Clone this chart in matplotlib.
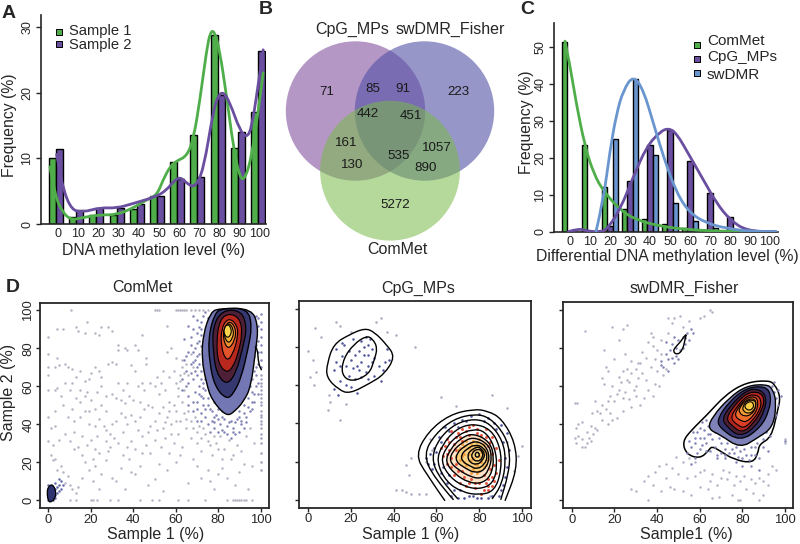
import numpy as np
import matplotlib
matplotlib.use("Agg")
import matplotlib.pyplot as plt
from matplotlib.patches import Circle, PathPatch
from matplotlib.path import Path

plt.rcParams["font.family"] = ["Liberation Sans", "DejaVu Sans"]

W, H = 800, 544
ink = "#262626"
green = "#4fae4a"
purple = "#6a4e9f"
blue = "#6a96cf"

# ---- Panel A ----
levels = [0, 10, 20, 30, 40, 50, 60, 70, 80, 90, 100]
a_sample1 = [10, 1, 1.3, 1.3, 2.3, 4.3, 9.4, 13.5, 28.8, 11.5, 17.1]
a_sample2 = [11.4, 2.2, 2.5, 2.4, 3, 4.3, 6.9, 7.2, 19.6, 14, 26.3]
a_curve1 = [(-3, 8.7), (-0.5, 4.2), (3.6, 1.6), (7.8, 0.6), (13.5, 1.0), (21.8, 1.4), (30, 1.4), (38, 2.4),
            (45, 3.7), (50, 4.4), (53, 6.7), (56.4, 8.7), (59.7, 9.6), (64.7, 10.3), (68, 12.8), (71.3, 18.9),
            (74.6, 26.5), (76.5, 29.3), (78.5, 29.3), (81, 26.5), (84.5, 19.4), (87.8, 11.8), (91, 7.0), (93.6, 6.8),
            (96.9, 10.3), (100, 16.9), (102.6, 23)]
a_curve2 = [(0.3, 10.6), (1.2, 9.2), (3.6, 5.2), (7.8, 2.1), (13.5, 1.8), (21.8, 2.5), (30, 2.4), (38, 3.1),
            (50, 4.2), (54.8, 5.2), (58, 6.4), (61.4, 7.2), (64.7, 6.2), (68.8, 5.5), (73, 8.2), (78, 17.4),
            (80.4, 19.6), (83, 20.1), (86.2, 18.4), (91, 14.3), (94.4, 13.1), (96.9, 14.6), (100, 20.9), (102.6, 26.5)]

# ---- Panel B ----
venn_labels = ["71", "85", "91", "223", "442", "451", "161", "130", "535", "1057", "890", "5272"]
venn_x = [327, 373, 403, 459, 368, 411, 346, 352, 399, 437, 426, 395]
venn_y = [92, 89, 89, 92, 114, 116, 143, 165, 156, 148, 168, 205]

# ---- Panel C ----
c_commet = [51.2, 23.3, 12.2, 6, 3.5, 2, 1, 0.5, 0.2, 0, 0]
c_cpg = [0, 0.3, 1.5, 13.8, 23.5, 27.5, 19, 10.5, 4, 0.3, 0]
c_swdmr = [0, 0, 25, 41.2, 20.8, 7.8, 3, 1, 0.3, 0, 0]
c_curve1 = [(-2.5, 51.5), (0, 45), (3, 35), (7.5, 23), (12, 15.5), (16.7, 11), (25, 5.9), (33, 3.2), (45, 1.5),
            (58, 0.6), (75, 0.1), (102, 0)]
c_curve2 = [(-0.8, 0), (4.2, 0.9), (9.2, 0.1), (15, 0), (18.3, 0.5), (25, 5.9), (31.7, 14.9), (38.3, 23), (45, 27),
            (49.2, 28), (53.3, 26.6), (60, 20.3), (66.7, 14), (73.3, 7.7), (80, 3.2), (88.3, 0.2), (103, 0)]
c_curve3 = [(13, 0), (16.7, 8.6), (20, 22), (23.3, 32), (26.7, 38.3), (31.7, 42.3), (36.7, 38.3), (41.7, 29.3),
            (46.7, 20.3), (53.3, 10.4), (60, 5), (68.3, 2.3), (78.3, 0.9), (90, 0.1), (103, 0)]

# ---- Panel D: ComMet ----
commet_gray = [(10.5, 100), (13, 91), (14, 89), (18, 94), (17, 88), (22, 88), (24, 87), (25, 91), (28, 91), (30, 89),
    (0, 86), (4, 90), (7, 90), (0, 77), (4, 75), (5, 71), (8, 72), (9, 70), (11, 69), (0, 70), (3, 70), (0, 66),
    (13, 65), (15, 68), (17, 63), (19, 64), (20, 67), (22, 70), (24, 68), (25, 65), (25, 60), (28, 72), (30, 73),
    (32, 72), (33, 82), (33, 79), (36, 80), (37, 79), (37, 62), (41, 82), (42, 79), (44, 87), (46, 75), (46, 72),
    (39, 71), (41, 68), (0, 58), (3, 58), (4, 59), (8, 62), (10, 58), (13, 54), (15, 58), (17, 55), (18, 57),
    (20, 53), (22, 48), (25, 50), (27, 47), (30, 56), (32, 54), (34, 53), (36, 51), (38, 55), (40, 53), (43, 52),
    (45, 58), (47, 50), (50, 60), (52, 56), (53, 62), (55, 58), (57, 52), (59, 50), (60, 62), (62, 66), (63, 70),
    (58, 80), (60, 75), (56, 92), (56, 78), (0, 44), (3, 47), (7, 50), (9, 44), (11, 48), (12, 42), (15, 44),
    (17, 47), (19, 40), (22, 39), (24, 43), (27, 37), (29, 35), (32, 42), (34, 46), (37, 40), (39, 45), (41, 42),
    (43, 44), (45, 48), (48, 39), (50, 42), (52, 46), (54, 38), (56, 44), (58, 40), (60, 47), (62, 42), (64, 46),
    (1, 38), (3, 39), (5, 32), (0, 31), (2, 29), (8, 35), (10, 31), (12, 27), (14, 28), (16, 24), (18, 29), (20, 32),
    (22, 27), (24, 25), (27, 31), (29, 28), (31, 33), (33, 30), (35, 24), (37, 28), (39, 31), (41, 27), (44, 34),
    (46, 29), (48, 25), (50, 32), (53, 28), (55, 33), (57, 25), (59, 30), (61, 35), (63, 28), (65, 38), (67, 33),
    (1, 24), (2, 21), (3, 22), (4, 16), (6, 18), (7, 15), (8, 9), (9, 13), (10, 8), (11, 6), (13, 4), (14, 7),
    (16, 12), (17, 20), (19, 16), (21, 10), (22, 18), (24, 6), (25, 14), (27, 21), (30, 12), (32, 10), (34, 17),
    (36, 6), (39, 15), (41, 14), (43, 18), (47, 8), (50, 11), (52, 19), (54, 5), (56, 16), (60, 20), (62, 24),
    (66, 9), (68, 22), (70, 18), (72, 12), (75, 16), (76, 10), (78, 6), (80, 14), (82, 17), (84, 12), (86, 22),
    (88, 8), (90, 15), (92, 19), (94, 6), (96, 18), (70, 30), (72, 26), (74, 35), (77, 24), (79, 30), (81, 34),
    (83, 27), (85, 32), (87, 24), (89, 29), (91, 26), (93, 34), (95, 38), (97, 30),
    (6, 55), (12, 36), (16, 34), (21, 22), (23, 34), (26, 39), (28, 26), (35, 36), (38, 22), (42, 37), (44, 25), (47, 36),
    (49, 49), (51, 37), (54, 49), (55, 41), (57, 47), (58, 35), (60, 42), (61, 55), (63, 52), (64, 58), (65, 43), (66, 47),
    (67, 42), (68, 38), (69, 44), (70, 36), (71, 39), (72, 33), (73, 38), (75, 31), (76, 29), (78, 34), (80, 27), (82, 22),
    (57, 65), (59, 68), (61, 59), (62, 63), (63, 74), (64, 67), (65, 72), (66, 66), (67, 77), (68, 70), (54, 68), (51, 65),
    (48, 62), (44, 62), (42, 60), (35, 58), (33, 62), (27, 55), (23, 57), (11, 62), (15, 52), (19, 47), (30, 40), (36, 44)]
commet_edge_x = [50, 51, 52, 60, 61, 62, 63, 64, 65, 67, 69, 71, 73, 75]
commet_floor_x = [10, 13, 20, 21, 23, 29, 33, 43, 49, 52, 61, 66, 74, 84, 87, 88, 89, 90, 91, 92, 93, 96]
commet_right_y = [16, 20, 25, 30, 33, 35, 38, 40, 42, 44, 45, 47, 50, 52, 54, 56, 58, 60, 62, 64, 66]
commet_lilac = [(66, 92), (68, 90), (67, 86), (70, 88), (71, 84), (69, 80), (72, 94), (73, 97), (74, 99), (70, 76),
    (67, 72), (64, 74), (71, 72), (72, 68), (70, 66), (68, 64), (66, 62), (65, 68), (63, 64), (71, 60), (73, 62),
    (69, 57), (72, 55), (74, 58), (66, 55), (70, 52), (73, 50), (75, 54), (76, 48), (72, 46), (74, 44), (77, 42),
    (79, 45), (81, 40), (83, 43), (85, 41), (87, 38), (89, 43), (91, 40), (93, 44), (95, 47), (78, 38), (76, 36),
    (80, 36), (82, 37), (84, 35), (86, 33), (88, 35), (90, 36), (92, 38), (70, 42), (68, 47), (66, 50), (96, 52),
    (97, 56), (98, 60), (95, 60), (96, 64), (98, 66), (99, 72), (97, 68), (99, 78), (99, 84), (98, 88), (99, 92),
    (97, 94), (98, 97), (100, 98), (100, 94), (100, 90), (100, 86), (100, 82), (100, 78), (100, 74), (100, 70),
    (94, 54), (92, 50), (90, 47), (73, 78), (74, 82), (73, 72), (75, 66), (76, 60), (77, 56), (78, 52), (80, 48),
    (82, 47), (88, 49), (90, 52), (94, 66), (96, 74), (95, 80), (96, 86), (97, 90), (70, 95), (68, 97), (64, 85),
    (71, 91), (72, 87), (72, 81), (71, 77), (70, 70), (69, 74), (68, 78), (67, 82), (66, 78), (65, 76), (69, 68), (72, 64),
    (74, 64), (73, 59), (71, 56), (73, 54), (75, 50), (74, 48), (77, 47), (78, 44), (80, 43), (82, 44), (84, 39), (86, 42),
    (88, 41), (90, 44), (92, 46), (94, 49), (96, 48), (97, 52), (99, 56), (99, 62), (98, 70), (97, 76), (98, 82), (96, 92),
    (99, 96), (75, 96), (72, 90), (70, 83), (68, 73), (67, 67), (65, 60), (63, 58), (68, 52), (70, 48), (72, 42), (75, 40),
    (78, 41), (83, 36), (87, 36), (91, 42), (93, 41), (96, 57), (95, 70), (94, 74), (97, 82), (96, 97), (94, 99), (92, 100)]
commet_blob = [(0, 0), (0, 2), (0, 4), (1, 1), (1, 3), (1, 5), (2, 0), (2, 2), (2, 4), (3, 1), (3, 3), (0, 6), (1, 7),
    (3, 6), (4, 4), (4, 7), (5, 5), (5, 8), (3, 9), (6, 6), (6, 10), (5, 11), (7, 8), (2, 6), (0, 8)]
commet_level1 = [(84, 44), (77, 52.8), (74.5, 61.5), (72.2, 74.7), (73, 87.8), (76.5, 99), (80.4, 101),
                 (96, 101), (99, 91), (97.8, 80), (95.5, 59.8), (92, 52), (88, 47)]
commet_level2 = [(84, 53), (78.5, 59.8), (76, 72), (75.4, 86), (78.4, 98.5), (82, 101), (94, 101), (96, 91.3),
                 (94, 79), (91, 65), (87.5, 56.5)]
commet_level3 = [(84, 60.5), (79.2, 66.8), (77.6, 79), (77.5, 91), (81.6, 100), (91, 100), (93.6, 91), (91.8, 81), (88.4, 66.8)]
commet_level4 = [(84, 67), (80, 72), (79.2, 84), (80.8, 95), (85, 98.5), (90.2, 96), (91.5, 87.8), (89.4, 77), (86.9, 70)]
commet_level5 = [(84, 73), (81.3, 80.8), (81.6, 91), (85, 96.2), (89, 92.3), (89.4, 86), (87, 77)]
commet_level6 = [(84.3, 78.8), (81.8, 87.8), (85, 95), (88.4, 90.8), (88, 84)]
commet_level7 = [(84.5, 82.3), (82.2, 88.6), (84.8, 94), (87.5, 89.8), (86.8, 85)]
commet_level8 = [(84.5, 85.2), (82.8, 87.5), (82.8, 90.5), (84.5, 93), (86.2, 90.5), (86.2, 87.5)]
commet_side = [(97.4, 81), (98.6, 80), (99, 72), (100.5, 68.5)]
commet_corner = [(0, -0.8), (-0.8, 4), (0, 7.5), (2, 8.5), (3.5, 5), (3.3, 1.5), (1.5, -0.8)]

# ---- Panel D: CpG_MPs ----
cpg_gray = [(0, 78), (3.5, 90), (6, 85), (13, 93), (15, 91), (20, 88), (32, 93), (34, 95), (37, 88), (41, 86), (50, 80),
    (1, 64), (3, 60), (4, 67), (2.5, 73), (10, 55), (10.5, 51), (9.5, 47), (15, 42), (18, 50), (62, 54), (69, 49),
    (86, 55), (93, 48), (46, 18), (48, 22), (47, 13), (41, 5), (44, 5), (46, 4), (48, 3), (52, 3), (55, 3), (57, 32),
    (63, 38), (98, 23), (100, 28), (96, 15), (85, 2), (93, 30), (55, 20), (58, 26)]
cpg_navy = [(27, 85), (25, 83), (28, 81), (29, 84), (26, 80), (24, 78), (22, 76), (20, 73), (18, 70), (19, 65),
    (22, 63), (25, 64), (27, 67), (28, 70), (30, 72), (25, 72), (23, 70), (24, 68), (21, 69), (26, 76), (28, 76),
    (30, 79), (31, 74), (33, 70), (36, 72), (38, 73), (35, 68), (37, 79), (12, 68), (13, 72), (15, 70), (16, 75),
    (13, 79), (17, 81), (19, 78), (21, 84), (15, 62), (18, 60), (20, 59), (23, 56), (28, 63), (31, 65), (34, 62),
    (12, 58), (14, 55), (16, 82)]
cpg_points_blue = [(55, 22), (56, 19), (59, 27), (61, 33), (64, 38), (68, 40), (72, 42), (80, 45), (84, 43), (90, 39),
    (93, 35), (94, 26), (93, 17), (91, 8), (89, 2), (84, 1), (79, 1), (73, 1), (70, 1), (68, 5), (65, 9), (62, 14),
    (58, 16), (67, 2), (75, 2), (60, 25), (88, 37), (76, 44), (70, 38), (57, 24), (59, 19), (63, 17), (66, 13), (71, 5),
    (77, 2), (81, 1), (86, 2), (90, 5), (92, 12), (92, 22), (91, 30), (87, 40), (82, 41), (74, 41), (66, 36), (62, 30)]
cpg_points_red = [(62, 27), (65, 32), (67, 36), (69, 33), (72, 37), (75, 38), (79, 37), (83, 37), (86, 33), (88, 27),
    (89, 21), (88, 14), (86, 7), (84, 5), (81, 3), (78, 6), (74, 7), (71, 9), (68, 13), (65, 19), (63, 23), (66, 26),
    (68, 29), (71, 33), (75, 34), (79, 35), (83, 33), (86, 24), (85, 16), (83, 9), (80, 9), (76, 11), (72, 15), (69, 19),
    (67, 22), (84, 28), (82, 13), (87, 10), (66, 30), (70, 35), (74, 36), (77, 39), (81, 34), (85, 30), (87, 18), (86, 12),
    (84, 7), (82, 5), (78, 9), (75, 9), (73, 12), (70, 15), (67, 17), (65, 24), (64, 28), (69, 26), (72, 31), (84, 11)]
cpg_points_orange = [(70, 26), (72, 29), (74, 31), (77, 31), (80, 32), (82, 29), (83, 24), (83, 18), (80, 15), (77, 16),
    (74, 18), (71, 21), (73, 24), (75, 27), (78, 28), (80, 28), (81, 25), (81, 20), (78, 19), (76, 21), (75, 24),
    (69, 23), (71, 27), (73, 28), (76, 29), (79, 30), (82, 26), (84, 21), (82, 17), (79, 14), (76, 14), (73, 20), (72, 23),
    (77, 26), (80, 23), (77, 22), (79, 18)]
cpg_open1 = [(64, -0.5), (55, 13.9), (50.3, 23.5), (56, 35.5), (66, 44.5), (77.3, 47.5), (84, 46.5), (90.5, 42.5),
             (96.8, 30), (97.6, 15.7), (92, -0.5)]
cpg_open2 = [(68, 0), (58.5, 12), (54, 24), (59.5, 34.5), (68, 42.3), (78, 45), (85, 43), (92, 34), (94.5, 24), (93.5, 13), (90, 0)]
cpg_open3 = [(70, 0.5), (61.5, 11), (57.5, 22), (61.5, 32.5), (69, 40), (78, 42.5), (85, 40), (91, 31), (92.5, 20), (90.5, 8), (86, 0.5)]
cpg_ring1 = [(77, 40), (69, 37), (62.5, 28.5), (60, 20), (64.5, 9.5), (72, 4), (80, 2.5), (87, 4.5), (90.3, 15), (90, 27), (85.5, 37)]
cpg_ring2 = [(77, 37), (70, 34), (64.5, 27.5), (62, 20), (66.5, 11.5), (73, 7), (80, 5.5), (86.5, 8.5), (88.5, 18), (87, 28.5), (82.5, 36)]
cpg_ring3 = [(77, 35), (71, 32), (66.5, 26.5), (64, 20), (68.5, 13.5), (75, 9), (81, 8.5), (85.5, 12.5), (87, 22), (85, 30.5)]
cpg_ring4 = [(77, 33), (72, 30), (67.5, 25.5), (66, 20), (70.5, 15.5), (76, 12), (81, 11), (84.5, 15.5), (86, 23), (84, 29.5)]
cpg_ring5 = [(78, 31), (73, 28), (69.5, 24.5), (69, 20), (73.5, 16.5), (78, 14), (82.5, 15.5), (85, 22), (83, 28.5)]
cpg_ring6 = [(78, 29), (74, 26.5), (71.5, 23.5), (72, 20), (76, 17.5), (79, 16), (82.5, 18.5), (84, 23), (82, 27.5)]
cpg_ring7 = [(79, 27.8), (75.5, 25.5), (74.5, 23), (75.5, 19.5), (79, 18.3), (81.5, 20.5), (82.8, 24), (80.5, 27.2)]
cpg_ring8 = [(79, 26.8), (76.5, 24.5), (76.5, 21.7), (79, 19.8), (81.6, 21.7), (81.6, 25.5)]
cpg_ring9 = [(79, 25.4), (77.8, 23.5), (79, 21.9), (80.4, 23.5)]
cpg_blob_outer = [(26.6, 89.8), (19.5, 86.5), (12, 81.5), (9, 71.3), (8.6, 64), (14.5, 57.5), (19.5, 55.5), (29, 61),
                  (35.5, 65.5), (40.8, 74.8), (36.5, 81.5), (31, 87.8)]
cpg_blob_inner = [(27.3, 85.8), (21.5, 81.5), (16.6, 74), (15.6, 65.5), (20.3, 61.6), (28.5, 65.5), (31, 73), (32.5, 79.5), (30.2, 84.3)]

# ---- Panel D: swDMR_Fisher ----
sw_gray = [(1.5, 51), (2.5, 51), (6, 89), (19, 91), (24, 90), (26, 92), (22, 84), (15, 79), (20, 74), (25, 77), (28, 73),
    (31, 72), (33, 78), (36, 83), (37, 88), (38, 81), (42, 84), (45, 88), (48, 96), (51, 97), (45, 96), (47, 93), (65, 100),
    (66, 99), (62, 97), (60, 96), (55, 94), (52, 91), (16, 70), (17, 68), (14, 64), (15, 61), (19, 60), (22, 65), (24, 68),
    (26, 63), (28, 67), (30, 69), (32, 72), (25, 57), (27, 53), (30, 55), (32, 50), (34, 54), (36, 58), (38, 55), (39, 61),
    (41, 60), (43, 66), (44, 69), (40, 68), (35, 63), (30, 60), (22, 58), (20, 52), (18, 55), (16, 48), (14, 50), (11, 52),
    (9.5, 46), (18, 46), (17, 40), (19, 42), (21, 43), (24, 47), (28, 49), (2, 38), (3, 40), (5, 41), (7, 36), (9, 39),
    (10, 35), (11, 38), (12, 37), (1.5, 33), (3, 34), (5, 32), (7, 30), (6, 28), (2, 30), (5, 28), (30, 5), (28, 6), (36, 0),
    (42, 5), (46, 7), (48, 6), (52, 5), (56, 3), (60, 7), (66, 1), (69, 2), (75, 3), (78, 0), (79, 0), (85, 4), (88, 0), (90, 3),
    (34, 10), (36, 13), (39, 15), (41, 18), (44, 19), (47, 17), (49, 23), (52, 20), (55, 22), (58, 20), (62, 16), (66, 14),
    (70, 12), (73, 11), (76, 8), (79, 10), (82, 6), (86, 9), (90, 10), (92, 14), (96, 16), (100, 30), (100, 32), (65, 10),
    (31, 64), (29, 58), (27, 62), (24, 54), (21, 56), (17, 52), (13, 46), (23, 62), (26, 69), (33, 67), (37, 70), (42, 77),
    (35, 75), (39, 74), (40, 79), (38, 86), (12, 47), (8, 33), (9, 31), (14, 42), (38, 8), (44, 12), (50, 14), (54, 12),
    (58, 13), (60, 15), (64, 6), (68, 8), (71, 16), (74, 15), (77, 13), (81, 13), (84, 11), (88, 12), (92, 8), (94, 18)]
sw_lilac = [(45, 68), (43, 70), (42, 73), (48, 72), (50, 74), (52, 80), (50, 84), (48, 86), (44, 83), (46, 79), (53, 85),
    (54, 88), (56, 90), (57, 88), (55, 84), (53, 82), (49, 76), (47, 75), (44, 77), (42, 71), (56, 19), (58, 22), (55, 31),
    (57, 36), (60, 33), (62, 37), (63, 30), (66, 32), (64, 35), (60, 27), (58, 30), (68, 22), (70, 30), (72, 27), (74, 32),
    (76, 25), (79, 26), (82, 24), (84, 28), (72, 22), (77, 20), (80, 18), (84, 18), (88, 22), (90, 28), (92, 26), (88, 16),
    (92, 38), (94, 42), (96, 45), (97, 50), (98, 55), (97, 58), (95, 62), (94, 60), (93, 34), (90, 32), (86, 28), (76, 32),
    (73, 36), (70, 40), (66, 42), (63, 42), (60, 38), (100, 31), (85, 32), (82, 30), (65, 26), (67, 28),
    (54, 25), (56, 28), (59, 25), (61, 29), (63, 26), (62, 33), (65, 35), (67, 36), (69, 33), (71, 34), (73, 30), (75, 27),
    (77, 28), (80, 22), (83, 21), (86, 24), (87, 30), (89, 35), (91, 36), (93, 40), (95, 44), (94, 50), (96, 54), (95, 57),
    (92, 60), (68, 24), (70, 25), (72, 24), (74, 25), (78, 23), (81, 27), (84, 24), (59, 36), (58, 33), (61, 41), (64, 39),
    (67, 40), (69, 44), (71, 47), (73, 49), (76, 52), (78, 55), (52, 86), (51, 79), (47, 82), (49, 80), (45, 74)]
sw_outer = [(92.3, 63), (82, 62), (72.5, 55.8), (63, 44.3), (56.5, 37.3), (51.8, 30.8), (54, 24), (60.2, 22), (64.2, 26),
            (65.7, 28.5), (69.6, 26), (75.9, 21.5), (85, 19.5), (87.5, 25), (88, 29.5), (93.7, 33), (96.7, 47.4), (98, 54.4), (95.3, 61)]
sw_level2 = [(91.5, 61), (82, 60.2), (74, 54), (66, 44), (63.8, 37.5), (69.6, 34.5), (79, 27.3), (87.2, 32.8),
             (94.5, 38.3), (96.1, 50.9), (94.5, 58.3)]
sw_level3 = [(90.8, 60), (82, 59.2), (74, 52), (68.4, 43), (69.2, 38.2), (79, 30.7), (88.8, 38.3), (92.8, 47.4), (93.6, 55.5)]
sw_level4 = [(88, 58.5), (82, 58), (74.7, 50), (70.5, 43), (72.7, 38.7), (79, 33.2), (86.4, 38.7), (90.5, 47), (91.5, 54.5)]
sw_level5 = [(88, 57), (82, 56.5), (75.7, 49), (72.5, 43), (74.7, 39.6), (80, 35.2), (85.4, 40.6), (89.5, 48), (90.5, 53.5)]
sw_level6 = [(87, 55.5), (82, 55), (76.7, 48), (74.5, 43), (77.7, 39.6), (81, 37.8), (85.4, 42.6), (88.5, 48), (89, 52.5)]
sw_level7 = [(87, 54.5), (82, 54), (77.6, 48), (76.5, 44), (80, 41.4), (82.3, 41.4), (85.4, 44.6), (87.5, 49)]
sw_level8 = [(86.3, 53.5), (82, 53), (78.6, 48.5), (78.6, 46), (81, 44), (84.3, 45), (86.5, 48.5)]
sw_level9 = [(86, 52.6), (82.3, 52.6), (80.1, 49), (80.6, 46.7), (83, 45.5), (85.4, 47), (86.5, 50)]
sw_level10 = [(84.3, 52.2), (81.7, 50.9), (81, 49), (83, 47), (85, 48.2), (85.5, 50.2)]
sw_loop = [(54, 88), (50.9, 83), (47.2, 78.7), (49.3, 76.3), (52, 78.7), (53.2, 84.7)]


def smooth(pts, closed=True):
    # vertices act as control points of quadratic beziers
    v = np.array(pts, float)
    if closed:
        mid = (v + np.roll(v, -1, axis=0)) / 2
        verts, codes = [mid[-1]], [Path.MOVETO]
        for i in range(len(v)):
            verts += [v[i], mid[i]]
            codes += [Path.CURVE3, Path.CURVE3]
    else:
        verts, codes = [v[0]], [Path.MOVETO]
        for i in range(1, len(v) - 1):
            verts += [v[i], (v[i] + v[i + 1]) / 2]
            codes += [Path.CURVE3, Path.CURVE3]
        verts.append(v[-1])
        codes.append(Path.LINETO)
    return Path(verts, codes)


def px_axes(left, top, right, bottom):
    return fig.add_axes([left / W, 1 - bottom / H, (right - left) / W, (bottom - top) / H])


def add_curve(ax, pts, color, lw=2.0):
    ax.add_patch(PathPatch(smooth(pts, closed=False), fill=False, edgecolor=color, lw=lw, capstyle="round", zorder=5))


def region(ax, pts, fc=None, ec="black", lw=1.0, alpha=1, zorder=3, closed=True):
    ax.add_patch(PathPatch(smooth(pts, closed), facecolor=fc if fc else "none", edgecolor=ec if ec else "none",
                           lw=lw, alpha=alpha, zorder=zorder))


def dots(ax, pts, color, s=3.2, zorder=2):
    xs, ys = zip(*pts)
    ax.scatter(xs, ys, s=s, c=color, linewidths=0, marker="o", zorder=zorder, clip_on=False)


def style_axis(ax, size=9):
    ax.tick_params(colors=ink, length=3.5, width=1, labelsize=size, pad=2)
    for tick in ax.get_yticklabels():
        tick.set_rotation(90)
        tick.set_va("center")


fig = plt.figure(figsize=(W / 100, H / 100), dpi=100)
ov = fig.add_axes([0, 0, 1, 1])
ov.set_xlim(0, W)
ov.set_ylim(H, 0)
ov.axis("off")

for letter, lx, ly in [("A", 2, 13), ("B", 259, 10), ("C", 520, 10), ("D", 6, 287)]:
    ov.text(lx, ly, letter, fontsize=14, fontweight="bold", color=ink, va="center")

# ---- A: grouped bars with density curves ----
ax = px_axes(41, 15, 266, 224)
ax.set_xlim(-7.43, 104)
ax.set_ylim(0, 31.8)
w = 3.45
ax.bar(np.array(levels) - w / 2, a_sample1, w, color=green, edgecolor="black", lw=1)
ax.bar(np.array(levels) + w / 2, a_sample2, w, color=purple, edgecolor="black", lw=1)
add_curve(ax, a_curve1, green)
add_curve(ax, a_curve2, purple)
ax.set_xticks(np.array(levels) + 1, [str(v) for v in levels])
ax.set_yticks([0, 10, 20, 30])
style_axis(ax)
ax.tick_params(axis="x", length=0, pad=3)
for s in ["top", "right"]:
    ax.spines[s].set_visible(False)
for s in ["left", "bottom"]:
    ax.spines[s].set_linewidth(1.2)
    ax.spines[s].set_color(ink)
ov.text(10, 125, "Frequency (%)", rotation=90, fontsize=11.3, color=ink, ha="center", va="center")
ov.text(154, 251, "DNA methylation level (%)", fontsize=11.3, color=ink, ha="center", va="center")
for label, color, my, ty in [("Sample 1", green, 32, 30.5), ("Sample 2", purple, 44, 45)]:
    ov.scatter([59], [my], s=22, marker="s", c=color, edgecolors="black", linewidths=0.7, zorder=10)
    ov.text(69, ty, label, fontsize=10.6, color=ink, va="center", zorder=10)

# ---- B: venn ----
ov.add_patch(Circle((355.5, 111), 69.7, fc=(132 / 255, 82 / 255, 160 / 255), alpha=0.6, ec="none"))
ov.add_patch(Circle((424.5, 111), 69.7, fc=(82 / 255, 80 / 255, 165 / 255), alpha=0.6, ec="none"))
ov.add_patch(Circle((390, 170.7), 69.9, fc=(120 / 255, 186 / 255, 72 / 255), alpha=0.55, ec="none"))
ov.set_aspect("auto")
for t, tx, ty in zip(venn_labels, venn_x, venn_y):
    ov.text(tx, ty, t, fontsize=9.6, color="#1a1a1a", ha="center", va="center")
ov.text(352, 29, "CpG_MPs", fontsize=11.5, color=ink, ha="center", va="center")
ov.text(450, 29, "swDMR_Fisher", fontsize=11.5, color=ink, ha="center", va="center")
ov.text(397, 250, "ComMet", fontsize=11.5, color=ink, ha="center", va="center")

# ---- C: three-way bars ----
ax = px_axes(554, 23, 778, 231.7)
ax.set_xlim(-8, 104)
ax.set_ylim(0, 56.4)
w = 2.65
ax.bar(np.array(levels) - w, c_commet, w, color=green, edgecolor="black", lw=1)
ax.bar(np.array(levels), c_cpg, w, color=purple, edgecolor="black", lw=1)
ax.bar(np.array(levels) + w, c_swdmr, w, color=blue, edgecolor="black", lw=1)
add_curve(ax, c_curve1, green)
add_curve(ax, c_curve2, purple)
add_curve(ax, c_curve3, blue)
ax.set_xticks(levels, [str(v) for v in levels])
ax.set_yticks([0, 10, 20, 30, 40, 50])
style_axis(ax)
ax.tick_params(axis="x", length=0, pad=3)
for s in ["top", "right"]:
    ax.spines[s].set_visible(False)
for s in ["left", "bottom"]:
    ax.spines[s].set_linewidth(1.2)
    ax.spines[s].set_color(ink)
ov.text(527, 122, "Frequency (%)", rotation=90, fontsize=11.3, color=ink, ha="center", va="center")
ov.text(667, 257, "Differential DNA methylation level (%)", fontsize=11.3, color=ink, ha="center", va="center")
for label, color, my, ty in [("ComMet", green, 45, 41), ("CpG_MPs", purple, 59, 57), ("swDMR", blue, 73, 75)]:
    ov.scatter([697], [my], s=18, marker="s", c=color, edgecolors="black", linewidths=0.7, zorder=10)
    ov.text(707, ty, label, fontsize=11, color=ink, va="center", zorder=10)

# ---- D: scatter panels ----
ticks = [0, 20, 40, 60, 80, 100]
boxes = [(40, 302.7, 269, 508), (299.3, 301, 530.7, 507.5), (563.3, 302.3, 793.3, 508)]
axes = []
for box in boxes:
    ax = px_axes(*box)
    ax.set_xlim(-4, 104)
    ax.set_ylim(-4, 104)
    ax.set_xticks(ticks)
    ax.set_yticks(ticks)
    ax.tick_params(colors=ink, length=3, width=1, labelsize=9.4, pad=1)
    for s in ax.spines.values():
        s.set_linewidth(1.3)
        s.set_color(ink)
    axes.append(ax)

# ComMet
ax = axes[0]
for tick in ax.get_yticklabels():
    tick.set_rotation(90)
    tick.set_va("center")
dots(ax, commet_gray, "#b5b5c4")
dots(ax, [(x, 100) for x in commet_edge_x] + [(x, 0) for x in commet_floor_x], "#b5b5c4")
dots(ax, [(100, y) for y in commet_right_y], "#9fa0bd")
dots(ax, commet_lilac, "#8083b6")
dots(ax, commet_blob, "#6368a6")
region(ax, commet_level1, fc="#7377b3", lw=1.0)
region(ax, commet_level2, fc="#363872", lw=1.0, zorder=3.1)
region(ax, commet_level3, fc="#4e2038", lw=0.9, zorder=3.2)
region(ax, commet_level4, fc="#b8281f", lw=0.8, zorder=3.3)
region(ax, commet_level5, fc="#e4542a", lw=0.8, zorder=3.4)
region(ax, commet_level6, fc="#f08f2f", lw=0.8, zorder=3.5)
region(ax, commet_level7, fc="#f5b73a", lw=0.8, zorder=3.6)
region(ax, commet_level8, fc="#f8d24a", lw=0.8, zorder=3.7)
region(ax, commet_corner, fc="#2f3470", lw=0.9)
region(ax, commet_side, closed=False)
ov.text(142, 288, "ComMet", fontsize=11.5, color=ink, ha="center", va="center")
ov.text(156, 534, "Sample 1 (%)", fontsize=11.5, color=ink, ha="center", va="center")
ov.text(9, 392, "Sample 2 (%)", rotation=90, fontsize=11.5, color=ink, ha="center", va="center")

# CpG_MPs
ax = axes[1]
ax.set_yticklabels([])
region(ax, cpg_ring3, fc="#f3a24a", ec=None, alpha=0.3, zorder=1)
region(ax, cpg_ring5, fc="#f8c95a", ec=None, alpha=0.6, zorder=1.1)
dots(ax, cpg_gray, "#a9a9bd")
dots(ax, cpg_navy, "#4c5398")
dots(ax, cpg_points_blue, "#4c5398", s=3.6)
dots(ax, cpg_points_red, "#e0523c", s=4.5)
dots(ax, cpg_points_orange, "#f2a13e", s=4.5)
for pts in [cpg_open1, cpg_open2, cpg_open3]:
    region(ax, pts, closed=False)
for pts in [cpg_ring1, cpg_ring2, cpg_ring3, cpg_ring4, cpg_ring5, cpg_ring6, cpg_ring7, cpg_ring8, cpg_ring9,
            cpg_blob_outer, cpg_blob_inner]:
    region(ax, pts)
ov.text(418, 288, "CpG_MPs", fontsize=11.5, color=ink, ha="center", va="center")
ov.text(411, 534, "Sample 1 (%)", fontsize=11.5, color=ink, ha="center", va="center")

# swDMR_Fisher
ax = axes[2]
ax.set_yticklabels([])
dots(ax, sw_gray, "#b3b3c6")
dots(ax, sw_lilac, "#8083b6")
region(ax, sw_outer, lw=1.1, zorder=1.5)
region(ax, sw_level2, fc="#7e82b8", lw=1.0, zorder=2.5)
region(ax, sw_level3, fc="#33326a", lw=0.9, zorder=3)
region(ax, sw_level4, fc="#4d1f35", lw=0.8, zorder=3.1)
region(ax, sw_level5, fc="#b3261f", lw=0.8, zorder=3.2)
region(ax, sw_level6, fc="#d93f27", lw=0.8, zorder=3.3)
region(ax, sw_level7, fc="#ee6f2c", lw=0.8, zorder=3.4)
region(ax, sw_level8, fc="#f19a33", lw=0.8, zorder=3.5)
region(ax, sw_level9, fc="#f5bc3c", lw=0.8, zorder=3.6)
region(ax, sw_level10, fc="#f8cf45", lw=0.8, zorder=3.7)
region(ax, sw_loop, lw=1.0)
ov.text(684, 288, "swDMR_Fisher", fontsize=11.5, color=ink, ha="center", va="center")
ov.text(686, 534, "Sample1 (%)", fontsize=11.5, color=ink, ha="center", va="center")

ov.set_zorder(5)
fig.savefig("out.png", dpi=100)
